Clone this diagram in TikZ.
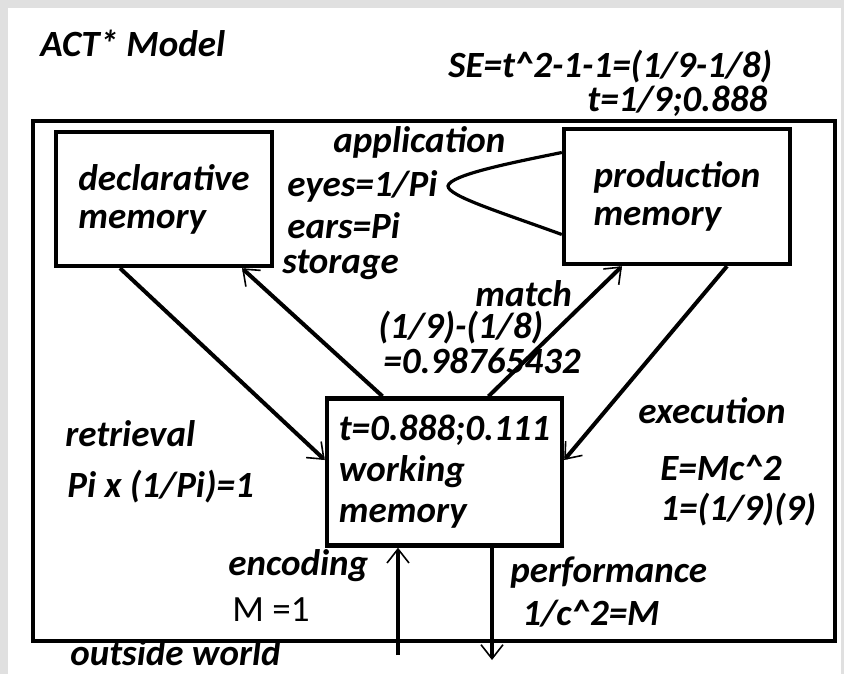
\documentclass[tikz,border=0pt]{standalone}
\usepackage{fontspec}
\setmainfont{Carlito}
\usetikzlibrary{arrows.meta}
\definecolor{bggray}{RGB}{224,224,224}

\begin{document}
\begin{tikzpicture}[x=0.5pt,y=-0.5pt,
  every node/.style={font=\fontsize{18.5}{19}\selectfont\bfseries\itshape},
  lbl/.style={anchor=base west,inner sep=0pt},
  membox/.style={draw,line width=2.2pt,align=left,inner sep=0pt},
  link/.style={line width=2pt,-{Straight Barb[line width=0.8pt,length=7pt,width=11pt]}}]
\useasboundingbox (0,0) rectangle (844,674);
\fill[bggray] (0,0) rectangle (844,674);
\fill[white] (8,8) rectangle (841,674);

% outer frame
\node[draw,line width=2.2pt,minimum width=401pt,minimum height=260pt] (world) at (434,381) {};

% memories
\node[membox,minimum width=108pt,minimum height=67pt] (decl) at (164,199) {declarative\\memory};
\node[membox,minimum width=113pt,minimum height=67.5pt] (prod) at (677,196.5) {production\\memory};
\node[membox,minimum width=117.5pt,minimum height=73.5pt,
  font=\fontsize{18.5}{20.5}\selectfont\bfseries\itshape] (wm) at (444.5,472) {t=0.888;0.111\\working\\memory};

% labels
\node[lbl] (title) at (40,57) {ACT* Model};
\node[lbl] (se) at (448,77) {SE=t\textasciicircum2-1-1=(1/9-1/8)};
\node[lbl] (tval) at (587,112) {t=1/9;0.888};
\node[lbl] (appl) at (333,152) {application};
\node[lbl] (eyes) at (287,196) {eyes=1/Pi};
\node[lbl] (ears) at (287,238) {ears=Pi};
\node[lbl] (stor) at (282,273) {storage};
\node[lbl] (match) at (475,306) {match};
\node[lbl] (frac) at (378,338) {(1/9)-(1/8)};
\node[lbl] (dec) at (383,373) {=0.98765432};
\node[lbl] (retr) at (65,446) {retrieval};
\node[lbl] (pix) at (67,497) {Pi x (1/Pi)=1};
\node[lbl] (exec) at (638,423) {execution};
\node[lbl] (emc) at (660,480) {E=Mc\textasciicircum2};
\node[lbl] (one) at (660,520) {1=(1/9)(9)};
\node[lbl] (enc) at (228,575) {encoding};
\node[lbl,font=\fontsize{18.5}{19}\selectfont] (mass) at (232,621) {M =1};
\node[lbl] (perf) at (510,582) {performance};
\node[lbl] (csq) at (522,625) {1/c\textasciicircum2=M};
\node[lbl] (outw) at (70,665) {outside world};

% connectors
\coordinate (inp) at (398,655);
\coordinate (outp) at (492,660);
\draw[link] ([xshift=-22pt]decl.south) -- ([yshift=6pt]wm.west);
\draw[link] ([xshift=-31pt]wm.north) -- ([xshift=39pt]decl.south);
\draw[link] ([xshift=22pt]wm.north) -- ([xshift=-27.5pt]prod.south);
\draw[link] ([xshift=25pt]prod.south) -- ([yshift=6pt]wm.east);
\draw[link] (inp) -- (inp |- wm.south);
\draw[link] ([xshift=23.75pt]wm.south) -- (outp);
\draw[line width=1.6pt] ([yshift=22pt]prod.west) .. controls (510,163) and (450,175) .. (448,186)
  .. controls (448,196) and (500,212) .. ([yshift=-19pt]prod.west);
\end{tikzpicture}
\end{document}
